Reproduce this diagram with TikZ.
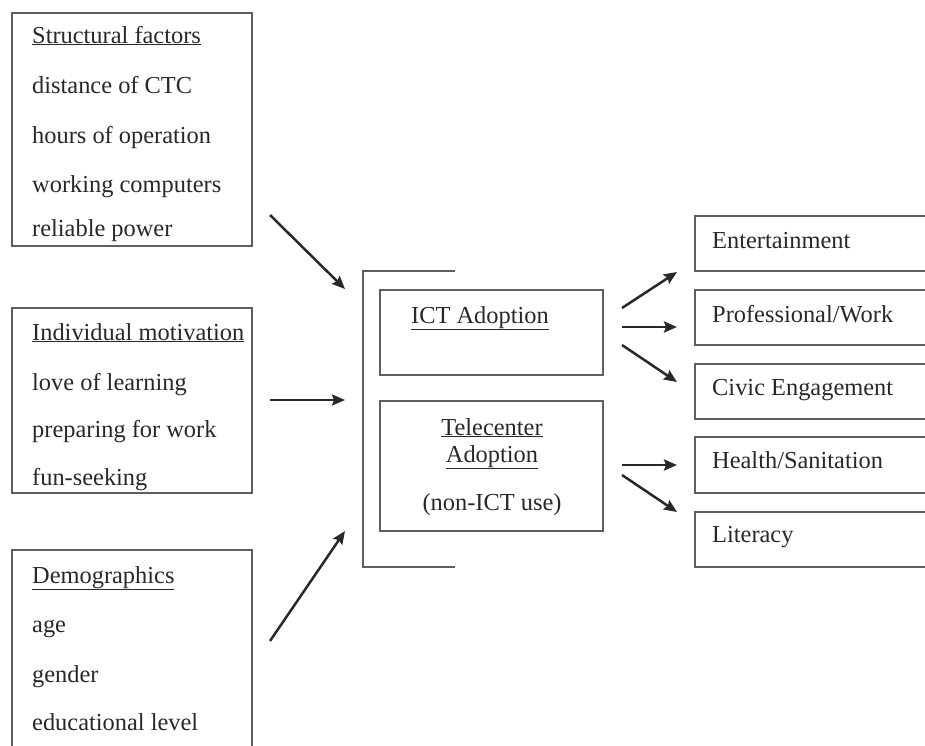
\documentclass[tikz,border=0pt]{standalone}
\usepackage{fontspec}
\setmainfont{Liberation Serif}
\usetikzlibrary{arrows.meta}
\definecolor{boxgray}{RGB}{95,95,95}
\definecolor{inkgray}{RGB}{40,40,40}
\tikzset{
  box/.style={draw=boxgray, line width=1.8pt, rectangle, inner sep=0pt},
  txt/.style={anchor=base west, inner sep=0pt, text=inkgray},
  ctxt/.style={anchor=base, inner sep=0pt, text=inkgray},
  arr/.style={-{Stealth[length=13pt, width=11pt, inset=2pt]}, line width=2.5pt, draw=inkgray}
}
\begin{document}
\begin{tikzpicture}[x=1pt, y=-1pt, font=\fontsize{24.4}{29}\selectfont]
    \clip (0,0) rectangle (925,745);
    % left boxes
    \node [box, minimum width=240pt, minimum height=233pt] (struct) at (132,129.5) {};
    \node [box, minimum width=240pt, minimum height=185pt] (motiv) at (132,400.5) {};
    \node [box, minimum width=240pt, minimum height=220pt] (demog) at (132,660) {};
    \node [txt] (struct0) at (32,43) {\underline{Structural factors}};
    \node [txt] (struct1) at (32,93) {distance of CTC};
    \node [txt] (struct2) at (32,143) {hours of operation};
    \node [txt] (struct3) at (32,192) {working computers};
    \node [txt] (struct4) at (32,236) {reliable power};
    \node [txt] (motiv0) at (32,340) {\underline{Individual motivation}};
    \node [txt] (motiv1) at (32,390) {love of learning};
    \node [txt] (motiv2) at (32,437) {preparing for work};
    \node [txt] (motiv3) at (32,485) {fun-seeking};
    \node [txt] (demog0) at (32,583) {\underline{Demographics}};
    \node [txt] (demog1) at (32,632) {age};
    \node [txt] (demog2) at (32,682) {gender};
    \node [txt] (demog3) at (32,730) {educational level};
    % bracket and adoption boxes
    \coordinate (brtop) at (455,271);
    \coordinate (brbot) at (455,567);
    \draw [draw=boxgray, line width=1.8pt] (brtop) -- (363,271) -- (363,567) -- (brbot);
    \node [box, minimum width=223pt, minimum height=85pt] (ict) at (491.5,332.5) {};
    \node [box, minimum width=223pt, minimum height=130pt] (tele) at (491.5,466) {};
    \node [ctxt] (ict0) at (480,323) {\underline{ICT Adoption}};
    \node [ctxt] (tele0) at (492,435) {\underline{Telecenter}};
    \node [ctxt] (tele1) at (492,462) {\underline{Adoption}};
    \node [ctxt] (tele2) at (492,510) {(non-ICT use)};
    % outcome boxes
    \node [box, minimum width=270pt, minimum height=55pt] (ent) at (830,243.5) {};
    \node [box, minimum width=270pt, minimum height=55pt] (prof) at (830,317.5) {};
    \node [box, minimum width=270pt, minimum height=55pt] (civic) at (830,391.5) {};
    \node [box, minimum width=270pt, minimum height=56pt] (health) at (830,465) {};
    \node [box, minimum width=270pt, minimum height=55pt] (lit) at (830,539.5) {};
    \node [txt] (ent0) at (712,248) {Entertainment};
    \node [txt] (prof0) at (712,322) {Professional/Work};
    \node [txt] (civic0) at (712,395) {Civic Engagement};
    \node [txt] (health0) at (712,468) {Health/Sanitation};
    \node [txt] (lit0) at (712,542) {Literacy};
    % arrow ends
    \coordinate (in1a) at (270,215);  \coordinate (in1b) at (345,289);
    \coordinate (in2a) at (270,400);  \coordinate (in2b) at (345,400);
    \coordinate (in3a) at (270,641);  \coordinate (in3b) at (345,531);
    \coordinate (out1a) at (622,308); \coordinate (out1b) at (677,272);
    \coordinate (out2a) at (622,327); \coordinate (out2b) at (677,327);
    \coordinate (out3a) at (622,345); \coordinate (out3b) at (677,382);
    \coordinate (out4a) at (622,465); \coordinate (out4b) at (677,465);
    \coordinate (out5a) at (622,475); \coordinate (out5b) at (677,512);
    \draw [arr] (in1a) -- (in1b);
    \draw [arr] (in2a) -- (in2b);
    \draw [arr] (in3a) -- (in3b);
    \draw [arr] (out1a) -- (out1b);
    \draw [arr] (out2a) -- (out2b);
    \draw [arr] (out3a) -- (out3b);
    \draw [arr] (out4a) -- (out4b);
    \draw [arr] (out5a) -- (out5b);
  \end{tikzpicture}
\end{document}
